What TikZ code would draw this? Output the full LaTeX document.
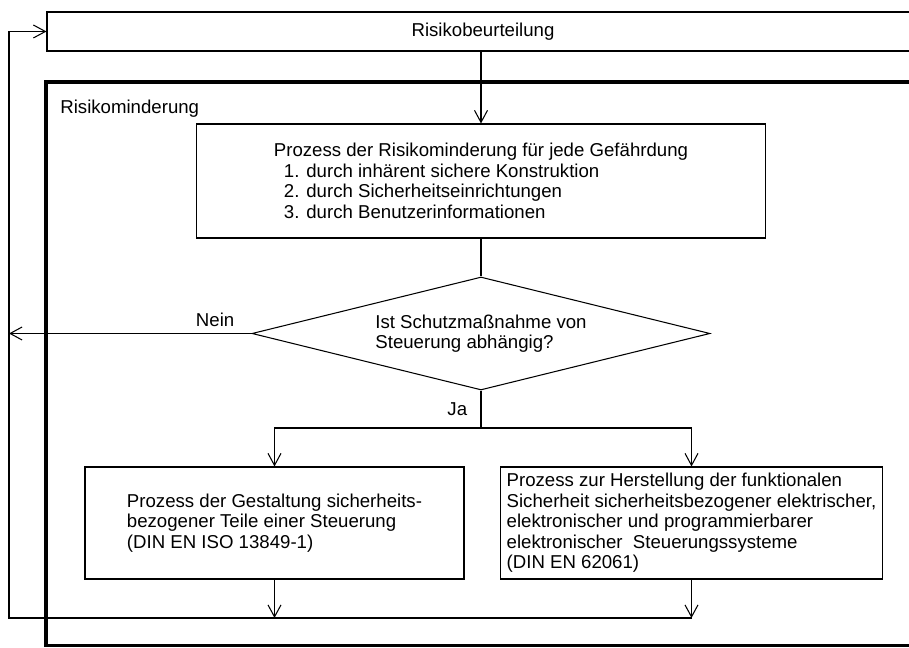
\documentclass[tikz,border=0pt]{standalone}
\usepackage{fontspec}
\setmainfont{Liberation Sans}
\usetikzlibrary{shapes.geometric,arrows.meta}

\begin{document}
\begin{tikzpicture}[
    font=\fontsize{10.6}{11.7}\selectfont,
    line width=0.6pt,
    box/.style={draw, inner sep=1.2mm, align=left},
    arr/.style={-{Straight Barb[length=2.4mm,width=2.6mm]}},
  ]
    \clip (0,0) rectangle (18.18,12.96);
    \node[box, minimum width=17.44cm, minimum height=0.78cm] (rb) at (9.66,12.33) {Risikobeurteilung};
    \draw[line width=2pt] (0.92,0.05) rectangle (18.6,11.32);
    \node[anchor=west] (rm) at (1.08,10.78) {Risikominderung};
    \node[box, minimum width=11.38cm, minimum height=2.28cm] (p) at (9.62,9.34)
      {Prozess der Risikominderung für jede Gefährdung\\
       \hspace*{2mm}1. durch inhärent sichere Konstruktion\\
       \hspace*{2mm}2. durch Sicherheitseinrichtungen\\
       \hspace*{2mm}3. durch Benutzerinformationen};
    \node[draw, diamond, aspect=4, minimum width=9.16cm, minimum height=2.26cm, inner sep=0pt, align=left] (q) at (9.62,6.29)
      {Ist Schutzmaßnahme von\\Steuerung abhängig?};
    \node[box, minimum width=7.58cm, minimum height=2.24cm] (d1) at (5.49,2.5)
      {Prozess der Gestaltung sicherheits-\\bezogener Teile einer Steuerung\\(DIN EN ISO 13849-1)};
    \node[box, minimum width=7.58cm, minimum height=2.24cm] (d2) at (13.83,2.5)
      {Prozess zur Herstellung der funktionalen\\Sicherheit sicherheitsbezogener elektrischer,\\elektronischer und programmierbarer\\elektronischer\ \ Steuerungssysteme\\(DIN EN 62061)};
    \coordinate (j) at (9.62,4.4);
    \coordinate (lb) at (0.18,0.6);
    \draw[arr] (rb.south -| p.north) -- (p.north);
    \draw (p.south) -- (q.north);
    \draw[arr] (q.west) -- (q.west -| lb) node[pos=0.15, above] {Nein};
    \draw (q.south) -- (j) node[midway, left=1.5mm] {Ja};
    \draw[arr] (j) -| (d1.north);
    \draw[arr] (j) -| (d2.north);
    \draw[arr] (d1.south) -- (d1.south |- lb);
    \draw[arr] (d2.south) -- (d2.south |- lb);
    \draw[arr] (d2.south |- lb) -- (lb) -- (lb |- rb.west) -- (rb.west);
  \end{tikzpicture}
\end{document}
